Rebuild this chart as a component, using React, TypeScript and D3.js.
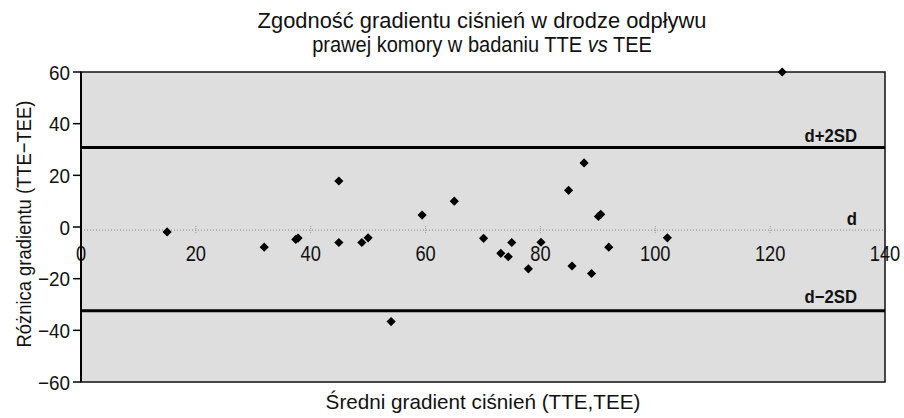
import React, { useEffect, useRef } from 'react';
import * as d3 from 'd3';

// Bland-Altman: mean of TTE and TEE vs difference
const meanGradient = [15.0, 31.9, 37.4, 37.8, 44.9, 44.9, 48.9, 50.0, 54.0, 59.4, 65.0, 70.1, 73.1, 74.4, 75.0, 77.9, 80.1, 84.9, 85.5, 87.6, 88.9, 90.1, 90.5, 91.9, 102.1, 122.1];
const diffGradient = [-1.9, -7.8, -4.8, -4.3, 17.8, -6.0, -6.0, -4.2, -36.6, 4.6, 10.0, -4.4, -10.2, -11.5, -6.0, -16.2, -5.9, 14.2, -15.1, 24.8, -18.0, 4.1, 4.9, -7.8, -4.2, 60];

const limitLabels = ['d+2SD', 'd', 'd−2SD'];
const limitValues = [30.8, -1.2, -32.4];

const xTicks = [0, 20, 40, 60, 80, 100, 120, 140];
const yTicks = [-60, -40, -20, 0, 20, 40, 60];

const titleLine1 = 'Zgodność gradientu ciśnień w drodze odpływu';
const titleLine2 = ['prawej komory w badaniu TTE ', 'vs', ' TEE'];
const xTitle = 'Średni gradient ciśnień (TTE,TEE)';
const yTitle = 'Różnica gradientu (TTE−TEE)';

const FONT = '"Liberation Sans", Arial, sans-serif';

const App = () => {
    const svgRef = useRef<SVGSVGElement>(null);

    useEffect(() => {
        if (!svgRef.current) return;
        const svg = d3.select(svgRef.current);
        svg.selectAll('*').remove();

        const left = 81, right = 885, top = 72, bottom = 382;
        const x = d3.scaleLinear().domain([0, 140]).range([left, right]);
        const y = d3.scaleLinear().domain([-60, 60]).range([bottom, top]);
        const dY = y(limitValues[1]);

        // narrow text: squeeze Liberation Sans horizontally (or fit it to a width)
        const label = (tx: number, ty: number, size: number, opts: any = {}) => {
            const g = svg.append('g').attr('transform', `translate(${tx},${ty}) rotate(${opts.rotate || 0})`);
            const inner = g.append('g');
            const t = inner.append('text')
                .attr('text-anchor', opts.anchor || 'middle')
                .attr('font-family', FONT).attr('font-size', size)
                .attr('font-weight', opts.weight || 'normal')
                .attr('fill', '#111');
            if (opts.dy) t.attr('dy', opts.dy);
            return { inner, t };
        };
        const squeeze = (o: any, sx: number, width?: number) => {
            let s = sx;
            if (width) s = width / (o.t.node() as SVGTextElement).getComputedTextLength();
            o.inner.attr('transform', `scale(${s},1)`);
        };

        svg.append('rect')
            .attr('x', left).attr('y', top)
            .attr('width', right - left).attr('height', bottom - top)
            .attr('fill', '#dedede').attr('stroke', '#111').attr('stroke-width', 1.5);

        // mean line acting as x axis
        svg.append('line')
            .attr('x1', left).attr('x2', right).attr('y1', dY).attr('y2', dY)
            .attr('stroke', '#888').attr('stroke-width', 1).attr('stroke-dasharray', '1,2');

        svg.append('g').selectAll('line').data(xTicks.slice(1, -1)).join('line')
            .attr('x1', d => x(d)).attr('x2', d => x(d))
            .attr('y1', dY - 4).attr('y2', dY + 4)
            .attr('stroke', '#999').attr('stroke-dasharray', '1,1');

        xTicks.forEach(d => {
            const o = label(x(d), 261, 22);
            o.t.text(d);
            squeeze(o, 0.83);
        });

        // limits of agreement
        svg.append('g').selectAll('line').data([limitValues[0], limitValues[2]]).join('line')
            .attr('x1', left).attr('x2', right)
            .attr('y1', d => y(d)).attr('y2', d => y(d))
            .attr('stroke', '#000').attr('stroke-width', 3);

        limitLabels.forEach((d, i) => {
            const o = label(857, y(limitValues[i]) - (i === 2 ? 8 : 5), 19, { anchor: 'end', weight: 'bold' });
            o.t.text(d);
            squeeze(o, 0.88);
        });

        // y axis
        svg.append('line')
            .attr('x1', left).attr('x2', left).attr('y1', top).attr('y2', bottom)
            .attr('stroke', '#000').attr('stroke-width', 2);

        svg.append('g').selectAll('line').data(yTicks).join('line')
            .attr('x1', left - 8).attr('x2', left)
            .attr('y1', d => y(d)).attr('y2', d => y(d))
            .attr('stroke', '#000').attr('stroke-width', 1.5);

        yTicks.forEach(d => {
            const o = label(70, y(d), 21, { anchor: 'end', dy: '0.36em' });
            o.t.text(d3.format('d')(d));
            squeeze(o, 0.9);
        });

        // points
        const diamond = d3.symbol(d3.symbolSquare, 42);
        svg.append('g').selectAll('path').data(meanGradient).join('path')
            .attr('d', diamond)
            .attr('transform', (d, i) => `translate(${x(d)},${y(diffGradient[i])}) rotate(45)`)
            .attr('fill', '#000');

        // titles
        const t1 = label(482, 28, 21.5);
        t1.t.text(titleLine1);
        squeeze(t1, 1, 449);

        const t2 = label(482, 52, 21.5);
        titleLine2.forEach((s, i) => t2.t.append('tspan').attr('font-style', i === 1 ? 'italic' : 'normal').text(s));
        squeeze(t2, 1, 340);

        const xt = label(483, 409, 21);
        xt.t.text(xTitle);
        squeeze(xt, 1, 315);

        const yt = label(31, 224, 21, { rotate: -90 });
        yt.t.text(yTitle);
        squeeze(yt, 1, 247);
    }, []);

    return (
        <svg ref={svgRef} width={904} height={418}
            style={{ position: 'absolute', left: 0, top: 0, background: '#fff' }} />
    );
};

export default App;
